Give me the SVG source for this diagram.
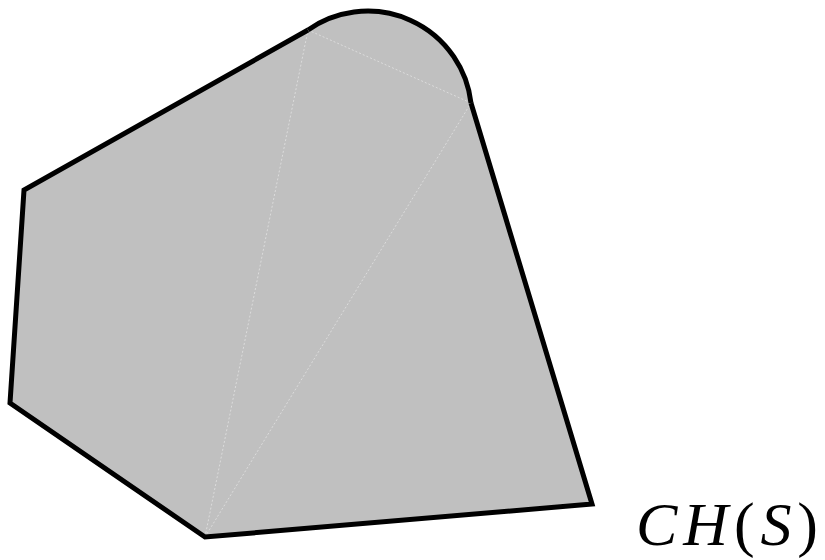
<svg xmlns="http://www.w3.org/2000/svg" width="825" height="560" viewBox="0 0 825 560">
<style>
.hull{fill:#c0c0c0;stroke:none}
.edge{fill:none;stroke:#000;stroke-width:5;stroke-linejoin:miter;stroke-linecap:butt}
.tri{fill:none;stroke:#dcdcdc;stroke-width:1;stroke-dasharray:2,2}
.lbl{font-family:"Liberation Serif","DejaVu Serif",serif;font-size:62px;fill:#000}
</style>
<rect width="825" height="560" fill="#fff"/>
<g id="hull">
<path class="hull" d="M24,190 L308,30 A104,104 0 0 1 471,103 L592,504 L205,537 L10,403 Z"/>
</g>
<g id="connectors">
<line class="tri" x1="205" y1="537" x2="308" y2="30"/>
<line class="tri" x1="205" y1="537" x2="471" y2="103"/>
<line class="tri" x1="308" y1="30" x2="471" y2="103"/>
</g>
<g id="boundary">
<path class="edge" d="M308,30 L24,190 L10,403 L205,537 L592,504 L471,103"/>
<path class="edge" d="M308,30 A104,104 0 0 1 471,103"/>
</g>
<g id="label">
<text class="lbl" x="636" y="545" textLength="182" lengthAdjust="spacing"><tspan font-style="italic">CH</tspan>(<tspan font-style="italic">S</tspan>)</text>
</g>
</svg>
